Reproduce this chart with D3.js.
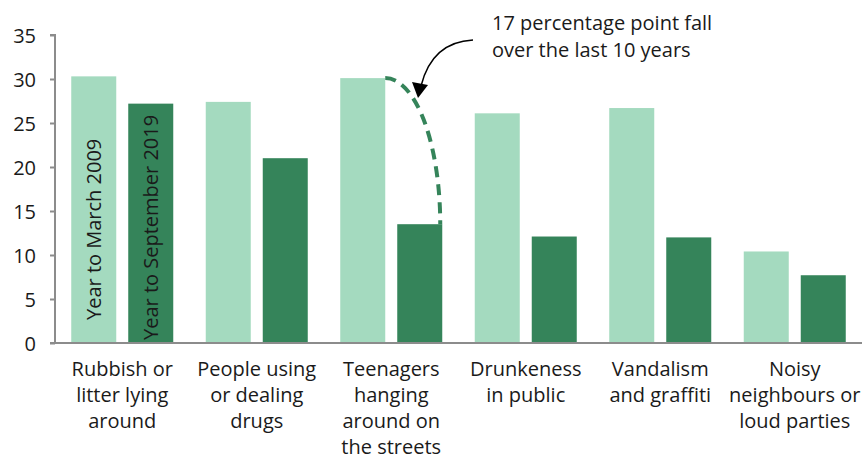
<!DOCTYPE html>
<html><head><meta charset="utf-8">
<script src="https://cdn.jsdelivr.net/npm/d3@7"></script>
<style>body{margin:0;background:#fff}svg{display:block}text{font-family:"Open Sans",sans-serif;fill:#1a1a1a}</style>
</head><body><svg id="c" width="862" height="455"></svg>
<script>
const categories = [
  ["Rubbish or","litter lying","around"],
  ["People using","or dealing","drugs"],
  ["Teenagers","hanging","around on","the streets"],
  ["Drunkeness","in public"],
  ["Vandalism","and graffiti"],
  ["Noisy","neighbours or","loud parties"]
];
const catKeys = ["rubbish","drugs","teen","drunk","vandal","noisy"];
const seriesNames = ["Year to March 2009","Year to September 2019"];
const values2009 = [30.3, 27.4, 30.1, 26.1, 26.7, 10.4];
const values2019 = [27.2, 21.0, 13.5, 12.1, 12.0, 7.7];
const yTicks = [0,5,10,15,20,25,30,35];
const colors = ["#a4dabf","#35845a"];

(function(){
const svg = d3.select("#c");
const mL = 55, mR = 862, mT = 35, mB = 343;
const x0 = d3.scaleBand().domain(catKeys).range([mL, mR]);
const x1 = d3.scaleBand().domain([0,1]).range([0, x0.bandwidth()]).paddingInner(12/57).paddingOuter(0.285);
const y = d3.scaleLinear().domain([0,35]).range([mB, mT]);

const data = catKeys.map((k,i)=>({k, vals:[values2009[i], values2019[i]]}));

const g = svg.append("g");
data.forEach(d=>{
  d.vals.forEach((v,j)=>{
    g.append("rect").attr("x", x0(d.k)+x1(j)).attr("width", x1.bandwidth())
      .attr("y", y(v)).attr("height", y(0)-y(v)).attr("fill", colors[j]);
  });
});

const ya = svg.append("g").attr("transform",`translate(${mL},0)`)
  .call(d3.axisLeft(y).tickValues(yTicks).tickSize(5).tickPadding(14));
ya.select(".domain").attr("stroke","#8c8c8c").attr("stroke-width",2).attr("d",`M-5,${y(35)}H0V${y(0)}`);
ya.selectAll(".tick line").attr("stroke","#8c8c8c").attr("stroke-width",2);
ya.selectAll(".tick text").attr("font-size",20).attr("font-family","Open Sans").attr("fill","#1a1a1a").attr("dy","0.35em");

svg.append("line").attr("x1",mL-5).attr("x2",mR).attr("y1",y(0)).attr("y2",y(0))
  .attr("stroke","#8c8c8c").attr("stroke-width",2);

data.forEach((d,i)=>{
  const cx = x0(d.k)+x0.bandwidth()/2;
  const t = svg.append("text").attr("x", cx).attr("y", 376)
    .attr("text-anchor","middle").attr("font-size",20);
  categories[i].forEach((line,li)=>{
    t.append("tspan").attr("x", cx).attr("dy", li===0?0:26).text(line);
  });
});

seriesNames.forEach((s,j)=>{
  const cx = x0(catKeys[0]) + x1(j) + x1.bandwidth()/2;
  const by = j===0 ? 320 : 340;
  svg.append("text").attr("transform",`translate(${cx+7},${by}) rotate(-90)`)
    .attr("font-size",20).attr("text-anchor","start").text(s);
});

const tk = "teen";
const ax1 = x0(tk)+x1(0)+x1.bandwidth(), ay1 = y(values2009[2]);
const ax2 = x0(tk)+x1(1)+x1.bandwidth()-2, ay2 = y(values2019[2]);
svg.append("path")
  .attr("d",`M${ax1},${ay1} A${ax2-ax1},${ay2-ay1} 0 0 1 ${ax2},${ay2}`)
  .attr("fill","none").attr("stroke","#35845a").attr("stroke-width",4).attr("stroke-dasharray","11,7");

const at = svg.append("text").attr("x",492).attr("y",30).attr("font-size",20);
at.append("tspan").attr("x",492).attr("dy",0).text("17 percentage point fall");
at.append("tspan").attr("x",492).attr("dy",27).text("over the last 10 years");

svg.append("path").attr("d","M473,40 Q432,42 421,86").attr("fill","none").attr("stroke","#000").attr("stroke-width",1.5);
svg.append("path").attr("d","M412,82 L428,85 L418,98 Z").attr("fill","#000");
})();
</script></body></html>
